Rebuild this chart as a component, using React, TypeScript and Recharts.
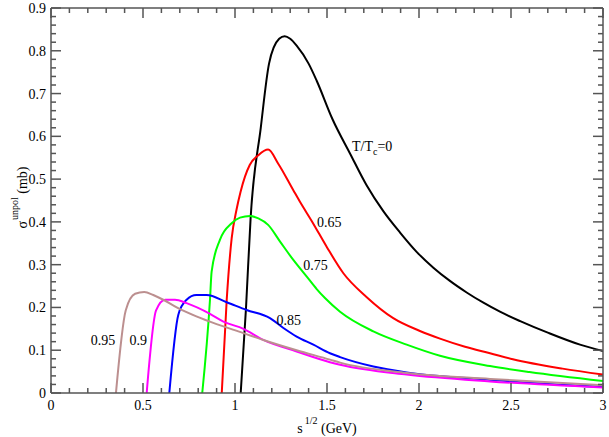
import { LineChart, Line, XAxis, YAxis, ReferenceDot } from "recharts";

// sqrt(s) in GeV, sigma in mb
const curveT0 = [
  { x: 1.031, y: 0 }, { x: 1.06, y: 0.2 }, { x: 1.085, y: 0.41 }, { x: 1.14, y: 0.62 },
  { x: 1.185, y: 0.77 }, { x: 1.24, y: 0.828 }, { x: 1.27, y: 0.834 }, { x: 1.3, y: 0.828 },
  { x: 1.335, y: 0.812 }, { x: 1.4, y: 0.77 }, { x: 1.444, y: 0.73 }, { x: 1.53, y: 0.64 },
  { x: 1.625, y: 0.56 }, { x: 1.716, y: 0.485 }, { x: 1.806, y: 0.425 }, { x: 1.897, y: 0.375 },
  { x: 1.987, y: 0.33 }, { x: 2.078, y: 0.293 }, { x: 2.168, y: 0.262 }, { x: 2.259, y: 0.235 },
  { x: 2.35, y: 0.211 }, { x: 2.44, y: 0.19 }, { x: 2.55, y: 0.168 }, { x: 2.7, y: 0.141 },
  { x: 2.875, y: 0.113 }, { x: 3.0, y: 0.098 },
];
const curve065 = [
  { x: 0.928, y: 0 }, { x: 0.955, y: 0.218 }, { x: 0.982, y: 0.362 }, { x: 1.009, y: 0.43 },
  { x: 1.03, y: 0.47 }, { x: 1.08, y: 0.533 }, { x: 1.127, y: 0.556 }, { x: 1.18, y: 0.569 },
  { x: 1.235, y: 0.536 }, { x: 1.317, y: 0.474 }, { x: 1.353, y: 0.447 }, { x: 1.42, y: 0.4 },
  { x: 1.498, y: 0.342 }, { x: 1.589, y: 0.28 }, { x: 1.716, y: 0.224 }, { x: 1.86, y: 0.175 },
  { x: 2.005, y: 0.145 }, { x: 2.114, y: 0.127 }, { x: 2.25, y: 0.108 }, { x: 2.386, y: 0.093 },
  { x: 2.51, y: 0.079 }, { x: 2.78, y: 0.057 }, { x: 3.0, y: 0.043 },
];
const curve075 = [
  { x: 0.822, y: 0 }, { x: 0.864, y: 0.218 }, { x: 0.873, y: 0.284 }, { x: 0.918, y: 0.358 },
  { x: 0.982, y: 0.397 }, { x: 1.027, y: 0.41 }, { x: 1.082, y: 0.414 }, { x: 1.127, y: 0.408 },
  { x: 1.18, y: 0.393 }, { x: 1.245, y: 0.354 }, { x: 1.317, y: 0.311 }, { x: 1.39, y: 0.272 },
  { x: 1.444, y: 0.243 }, { x: 1.489, y: 0.222 }, { x: 1.571, y: 0.19 }, { x: 1.752, y: 0.144 },
  { x: 1.933, y: 0.113 }, { x: 2.114, y: 0.087 }, { x: 2.386, y: 0.063 }, { x: 2.6, y: 0.049 },
  { x: 3.0, y: 0.028 },
];
const curve085 = [
  { x: 0.643, y: 0 }, { x: 0.692, y: 0.183 }, { x: 0.737, y: 0.218 }, { x: 0.79, y: 0.229 },
  { x: 0.846, y: 0.229 }, { x: 0.955, y: 0.212 }, { x: 1.063, y: 0.194 }, { x: 1.19, y: 0.175 },
  { x: 1.263, y: 0.152 }, { x: 1.335, y: 0.132 }, { x: 1.426, y: 0.113 }, { x: 1.516, y: 0.093 },
  { x: 1.571, y: 0.084 }, { x: 1.752, y: 0.062 }, { x: 1.933, y: 0.048 }, { x: 2.386, y: 0.031 },
  { x: 2.7, y: 0.021 }, { x: 3.0, y: 0.014 },
];
const curve090 = [
  { x: 0.52, y: 0 }, { x: 0.571, y: 0.193 }, { x: 0.62, y: 0.218 }, { x: 0.674, y: 0.218 },
  { x: 0.737, y: 0.21 }, { x: 0.864, y: 0.185 }, { x: 0.937, y: 0.167 }, { x: 1.046, y: 0.15 },
  { x: 1.154, y: 0.124 }, { x: 1.335, y: 0.097 }, { x: 1.516, y: 0.072 }, { x: 1.571, y: 0.066 },
  { x: 1.933, y: 0.043 }, { x: 2.386, y: 0.027 }, { x: 3.0, y: 0.013 },
];
const curve095 = [
  { x: 0.353, y: 0 }, { x: 0.406, y: 0.193 }, { x: 0.457, y: 0.232 }, { x: 0.507, y: 0.236 },
  { x: 0.556, y: 0.229 }, { x: 0.61, y: 0.218 }, { x: 0.683, y: 0.2 }, { x: 0.79, y: 0.179 },
  { x: 0.9, y: 0.161 }, { x: 1.046, y: 0.14 }, { x: 1.154, y: 0.124 }, { x: 1.335, y: 0.1 },
  { x: 1.516, y: 0.078 }, { x: 1.571, y: 0.071 }, { x: 1.933, y: 0.047 }, { x: 2.386, y: 0.033 },
  { x: 3.0, y: 0.018 },
];

const xTicks = [
  0, 0.1, 0.2, 0.3, 0.4, 0.5, 0.6, 0.7, 0.8, 0.9, 1, 1.1, 1.2, 1.3, 1.4, 1.5,
  1.6, 1.7, 1.8, 1.9, 2, 2.1, 2.2, 2.3, 2.4, 2.5, 2.6, 2.7, 2.8, 2.9, 3,
];
const xMajor = [0, 0.5, 1, 1.5, 2, 2.5, 3];
const yTicks = [
  0, 0.02, 0.04, 0.06, 0.08, 0.1, 0.12, 0.14, 0.16, 0.18, 0.2, 0.22, 0.24, 0.26, 0.28,
  0.3, 0.32, 0.34, 0.36, 0.38, 0.4, 0.42, 0.44, 0.46, 0.48, 0.5, 0.52, 0.54, 0.56, 0.58,
  0.6, 0.62, 0.64, 0.66, 0.68, 0.7, 0.72, 0.74, 0.76, 0.78, 0.8, 0.82, 0.84, 0.86, 0.88, 0.9,
];
const yMajor = [0, 0.1, 0.2, 0.3, 0.4, 0.5, 0.6, 0.7, 0.8, 0.9];

const curveLabels = [
  { x: 1.446, y: 0.389, text: "0.65" },
  { x: 1.371, y: 0.288, text: "0.75" },
  { x: 1.226, y: 0.159, text: "0.85" },
  { x: 0.426, y: 0.113, text: "0.9" },
  { x: 0.216, y: 0.113, text: "0.95" },
];

const FONT = "'Liberation Serif', 'Times New Roman', 'Liberation Sans', sans-serif";
const AXIS = "#555";
const textStyle = { fontFamily: FONT, fontSize: 14 };

const isMajor = (v: number, list: number[]) => list.some((m) => Math.abs(m - v) < 1e-6);

function Tick(props: any) {
  const { x, y, payload, side } = props;
  const v = payload.value;
  const major = isMajor(v, side === "bottom" || side === "top" ? xMajor : yMajor);
  const len = major ? 10 : 5;
  let line;
  if (side === "bottom") line = <line x1={x} y1={y} x2={x} y2={y - len} />;
  else if (side === "top") line = <line x1={x} y1={y} x2={x} y2={y + len} />;
  else if (side === "left") line = <line x1={x} y1={y} x2={x + len} y2={y} />;
  else line = <line x1={x} y1={y} x2={x - len} y2={y} />;
  return (
    <g>
      <g stroke={AXIS} strokeWidth={1.5}>{line}</g>
      {major && side === "bottom" && (
        <text x={x} y={y + 17} textAnchor="middle" style={textStyle} fill="#000">
          {String(v)}
        </text>
      )}
      {major && side === "left" && (
        <text x={x - 5} y={y + 5} textAnchor="end" style={textStyle} fill="#000">
          {String(v)}
        </text>
      )}
    </g>
  );
}

function XTitle(props: any) {
  const { viewBox } = props;
  const cx = viewBox.x + viewBox.width / 2;
  const y = viewBox.y + 40;
  return (
    <text x={cx} y={y} textAnchor="middle" style={textStyle} fill="#000">
      <tspan>s</tspan>
      <tspan dx={2} dy={-9} fontSize={10}>1/2</tspan>
      <tspan dy={9}> (GeV)</tspan>
    </text>
  );
}

function YTitle(props: any) {
  const { viewBox } = props;
  const x = 27;
  const cy = viewBox.y + viewBox.height / 2 - 3;
  return (
    <text
      x={x}
      y={cy}
      textAnchor="middle"
      style={textStyle}
      fill="#000"
      transform={`rotate(-90 ${x} ${cy})`}
    >
      <tspan>σ</tspan>
      <tspan dx={1} dy={-9} fontSize={10}>unpol</tspan>
      <tspan dy={9}> (mb)</tspan>
    </text>
  );
}

function CurveText(props: any) {
  const { viewBox, text } = props;
  return (
    <text x={viewBox.x} y={viewBox.y} style={textStyle} fill="#000">
      {text}
    </text>
  );
}

function T0Text(props: any) {
  const { viewBox } = props;
  return (
    <text x={viewBox.x} y={viewBox.y} style={textStyle} fill="#000">
      <tspan>T/T</tspan>
      <tspan dy={4} fontSize={10}>c</tspan>
      <tspan dy={-4}>=0</tspan>
    </text>
  );
}

const series = [
  { data: curveT0, color: "#000000" },
  { data: curve065, color: "#ff0000" },
  { data: curve075, color: "#00ff00" },
  { data: curve085, color: "#0000ff" },
  { data: curve090, color: "#ff00ff" },
  { data: curve095, color: "#bc8f8f" },
];

export default function App() {
  return (
    <div style={{ position: "absolute", left: 0, top: 0, background: "#fff" }}>
      <LineChart width={609} height={437} margin={{ top: 7, right: 5, bottom: 0, left: 0 }}>
        <XAxis
          xAxisId="b"
          type="number"
          dataKey="x"
          domain={[0, 3]}
          ticks={xTicks}
          interval={0}
          allowDataOverflow
          height={44}
          stroke={AXIS}
          strokeWidth={1.5}
          tickLine={false}
          tickSize={0}
          tickMargin={0}
          tick={(p: any) => <Tick {...p} side="bottom" />}
          label={<XTitle />}
        />
        <XAxis
          xAxisId="t"
          orientation="top"
          type="number"
          dataKey="x"
          domain={[0, 3]}
          ticks={xTicks}
          interval={0}
          allowDataOverflow
          height={1}
          stroke={AXIS}
          strokeWidth={1.5}
          tickLine={false}
          tickSize={0}
          tickMargin={0}
          tick={(p: any) => <Tick {...p} side="top" />}
        />
        <YAxis
          yAxisId="l"
          type="number"
          domain={[0, 0.9]}
          ticks={yTicks}
          interval={0}
          allowDataOverflow
          width={51}
          stroke={AXIS}
          strokeWidth={1.5}
          tickLine={false}
          tickSize={0}
          tickMargin={0}
          tick={(p: any) => <Tick {...p} side="left" />}
          label={<YTitle />}
        />
        <YAxis
          yAxisId="r"
          orientation="right"
          type="number"
          domain={[0, 0.9]}
          ticks={yTicks}
          interval={0}
          allowDataOverflow
          width={1}
          stroke={AXIS}
          strokeWidth={1.5}
          tickLine={false}
          tickSize={0}
          tickMargin={0}
          tick={(p: any) => <Tick {...p} side="right" />}
        />
        {series.map((s, i) => (
          <Line
            key={i}
            xAxisId="b"
            yAxisId="l"
            data={s.data}
            dataKey="y"
            type="monotone"
            stroke={s.color}
            strokeWidth={2}
            dot={false}
            activeDot={false}
            isAnimationActive={false}
          />
        ))}
        <ReferenceDot
          xAxisId="b"
          yAxisId="l"
          x={1.636}
          y={0.565}
          r={0}
          fill="none"
          stroke="none"
          label={<T0Text />}
        />
        {curveLabels.map((l) => (
          <ReferenceDot
            key={l.text}
            xAxisId="b"
            yAxisId="l"
            x={l.x}
            y={l.y}
            r={0}
            fill="none"
            stroke="none"
            label={<CurveText text={l.text} />}
          />
        ))}
      </LineChart>
    </div>
  );
}
